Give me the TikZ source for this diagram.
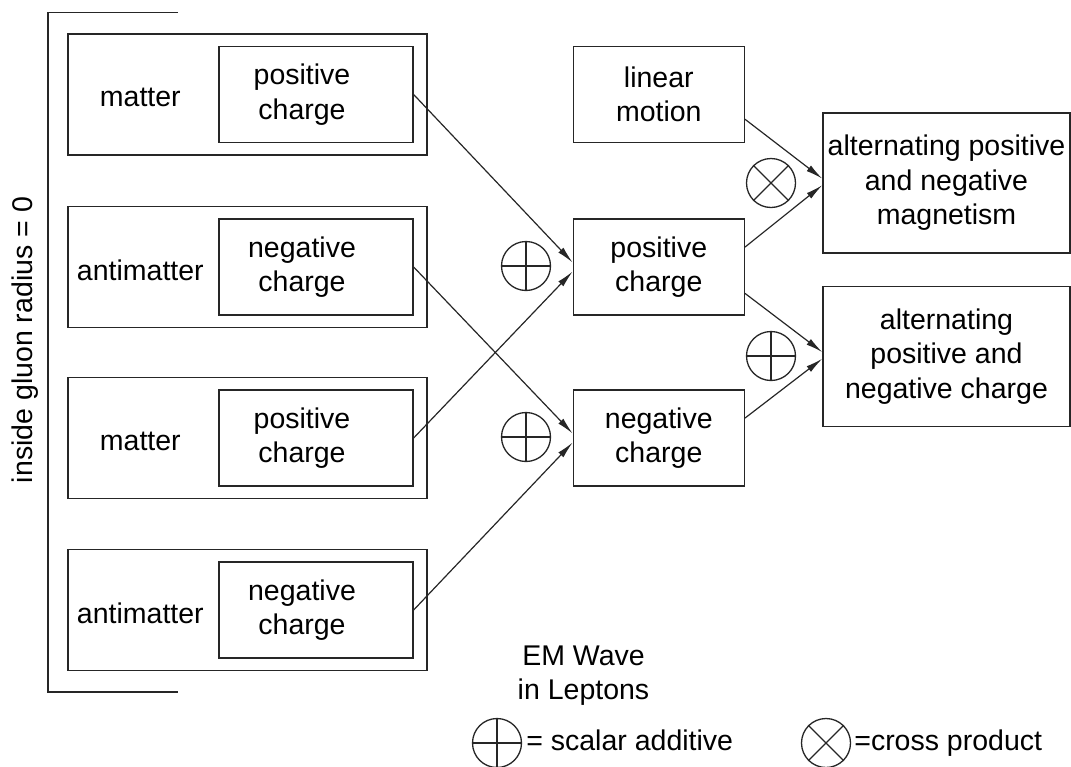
\documentclass[tikz,border=0pt]{standalone}
\usepackage{fontspec}
\setmainfont{Liberation Sans}
\usepackage{tikz}
\usetikzlibrary{arrows.meta,shapes,positioning,calc}

\tikzset{
  outbox/.style={draw, line width=1.3pt, minimum width=359pt, minimum height=121pt},
  inbox/.style={draw, line width=1.3pt, minimum width=194pt, minimum height=96pt},
  midbox/.style={draw, line width=1.3pt, minimum width=171pt, minimum height=96pt, align=center},
  resbox/.style={draw, line width=1.3pt, minimum width=247pt, minimum height=140pt, inner sep=2pt, align=center},
  opnode/.style={draw, line width=1.3pt, circle, minimum size=49pt, inner sep=0pt},
  legtext/.style={inner sep=0pt, text height=20pt, text depth=6pt},
  flow/.style={line width=1.2pt, -{Latex[length=17pt,width=7pt]}}
}

\begin{document}
\begin{tikzpicture}[x=1pt, y=-1pt, font=\fontsize{28.5}{34.5}\selectfont, draw=black!85]

\useasboundingbox (0,0) rectangle (1071,766);

\draw[line width=1.3pt] (178,12.5) -- (48,12.5) -- (48,692) -- (178,692);
\node[rotate=90] (gluon) at (25,340) {inside gluon radius = 0};

\node[outbox] (row1) at (247.5,94.5) {};
\node[outbox] (row2) at (247.5,267) {};
\node[outbox] (row3) at (247.5,438) {};
\node[outbox] (row4) at (247.5,610) {};

\node[inbox, left=14pt of row1.east] (pos1) {};
\node[inbox, left=14pt of row2.east] (neg2) {};
\node[inbox, left=14pt of row3.east] (pos3) {};
\node[inbox, left=14pt of row4.east] (neg4) {};

\node (mat1) at ([xshift=73pt,yshift=-3pt]row1.west) {matter};
\node (anti2) at ([xshift=73pt,yshift=-3pt]row2.west) {antimatter};
\node (mat3) at ([xshift=73pt,yshift=-3pt]row3.west) {matter};
\node (anti4) at ([xshift=73pt,yshift=-3pt]row4.west) {antimatter};

\node[align=center] (pos1txt) at ([xshift=-14pt]pos1.center) {positive\\charge};
\node[align=center] (neg2txt) at ([xshift=-14pt]neg2.center) {negative\\charge};
\node[align=center] (pos3txt) at ([xshift=-14pt]pos3.center) {positive\\charge};
\node[align=center] (neg4txt) at ([xshift=-14pt]neg4.center) {negative\\charge};

\node[midbox, right=159pt of pos1] (linear) {linear\\motion};
\node[midbox, right=159pt of neg2] (midpos) {positive\\charge};
\node[midbox, right=159pt of pos3] (midneg) {negative\\charge};

\node[resbox] (mag) at (946.5,183) {alternating positive\\and negative\\magnetism};
\node[resbox] (chg) at (946.5,356.5) {alternating\\positive and\\negative charge};

\draw[flow] (pos1.east) -- (midpos.177);
\draw[flow] (pos3.east) -- (midpos.183);
\draw[flow] (neg2.east) -- (midneg.177);
\draw[flow] (neg4.east) -- (midneg.183);

\draw[flow] (linear.-16) -- (mag.178);
\draw[flow] (midpos.13) -- (mag.181);
\draw[flow] (midpos.-17) -- (chg.178);
\draw[flow] (midneg.13) -- (chg.181);

\node[opnode] (plus1) at (526,266) {};
\node[opnode] (plus2) at (526,437) {};
\node[opnode] (plus3) at (771,356) {};
\node[opnode] (cross1) at (771,183) {};
\draw[line width=1.3pt] (plus1.north) -- (plus1.south) (plus1.west) -- (plus1.east);
\draw[line width=1.3pt] (plus2.north) -- (plus2.south) (plus2.west) -- (plus2.east);
\draw[line width=1.3pt] (plus3.north) -- (plus3.south) (plus3.west) -- (plus3.east);
\draw[line width=1.3pt] (cross1.45) -- (cross1.225) (cross1.135) -- (cross1.315);

\node[align=center] (title) at (583.5,675.5) {EM Wave\\in Leptons};

\node[opnode] (legplus) at (497,743) {};
\draw[line width=1.3pt] (legplus.north) -- (legplus.south) (legplus.west) -- (legplus.east);
\node[legtext, right=4pt of legplus] (legplustxt) {= scalar additive};

\node[opnode] (legcross) at (826,743) {};
\draw[line width=1.3pt] (legcross.45) -- (legcross.225) (legcross.135) -- (legcross.315);
\node[legtext, right=3pt of legcross] (legcrosstxt) {=cross product};

\end{tikzpicture}
\end{document}
